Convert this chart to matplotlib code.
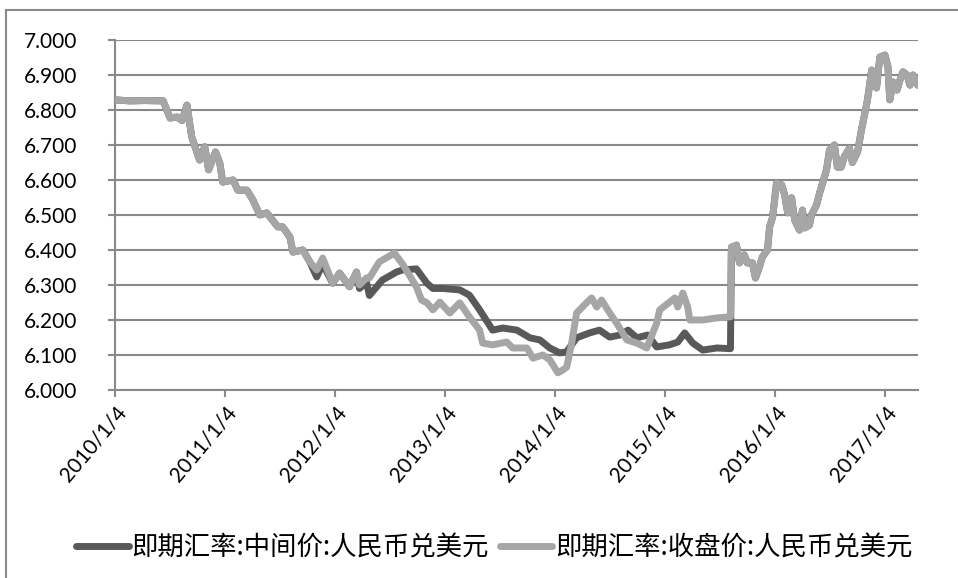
import matplotlib
matplotlib.use("Agg")
import matplotlib.pyplot as plt
from matplotlib.lines import Line2D
import numpy as np
import pandas as pd

# values (CNY per USD)
early_dates = ["2010-01-04", "2010-02-22", "2010-04-13", "2010-06-13", "2010-07-06",
               "2010-07-29", "2010-08-15", "2010-08-31", "2010-09-16", "2010-10-12",
               "2010-10-29", "2010-11-11", "2010-12-04", "2010-12-18", "2010-12-28",
               "2011-01-31", "2011-02-16", "2011-03-18", "2011-04-07", "2011-04-30",
               "2011-05-23", "2011-06-29", "2011-07-15", "2011-08-08", "2011-08-18",
               "2011-09-20", "2011-10-13"]
early_vals = [6.829, 6.826, 6.827, 6.826, 6.777,
              6.780, 6.770, 6.814, 6.723, 6.657,
              6.695, 6.629, 6.680, 6.649, 6.594,
              6.600, 6.571, 6.571, 6.543, 6.500,
              6.506, 6.466, 6.466, 6.437, 6.394,
              6.400, 6.366]

mid_dates_dark = ["2011-11-05", "2011-11-25", "2011-12-28", "2012-01-20", "2012-02-22",
                  "2012-03-16", "2012-03-26", "2012-04-18", "2012-04-28", "2012-06-10",
                  "2012-07-27", "2012-08-16", "2012-10-01", "2012-11-05", "2012-11-25",
                  "2012-12-28", "2013-02-22", "2013-03-26", "2013-04-29", "2013-06-11",
                  "2013-07-15", "2013-08-31", "2013-10-13", "2013-11-15", "2013-12-18",
                  "2014-01-20", "2014-02-12", "2014-03-17", "2014-04-29", "2014-06-01",
                  "2014-07-05", "2014-08-08", "2014-09-04", "2014-10-03", "2014-11-08",
                  "2014-12-08", "2015-01-20", "2015-02-16", "2015-03-11", "2015-04-07",
                  "2015-05-10", "2015-06-26", "2015-08-10", "2015-08-11", "2015-08-13"]
mid_vals_dark = [6.323, 6.360, 6.305, 6.334, 6.295,
                 6.337, 6.290, 6.309, 6.270, 6.314,
                 6.337, 6.343, 6.346, 6.305, 6.290,
                 6.290, 6.286, 6.271, 6.229, 6.171,
                 6.177, 6.171, 6.149, 6.143, 6.120,
                 6.106, 6.109, 6.149, 6.163, 6.171,
                 6.151, 6.157, 6.171, 6.149, 6.157,
                 6.123, 6.129, 6.137, 6.163, 6.134,
                 6.114, 6.120, 6.118, 6.206, 6.400]

mid_dates_light = ["2011-11-05", "2011-11-25", "2011-12-28", "2012-01-20", "2012-02-22",
                   "2012-03-16", "2012-03-26", "2012-04-18", "2012-04-28", "2012-05-31",
                   "2012-07-20", "2012-08-16", "2012-10-01", "2012-10-18", "2012-11-05",
                   "2012-11-25", "2012-12-18", "2013-01-20", "2013-02-22", "2013-03-26",
                   "2013-04-29", "2013-05-09", "2013-06-11", "2013-07-28", "2013-08-17",
                   "2013-10-03", "2013-10-23", "2013-11-25", "2013-12-18", "2014-01-14",
                   "2014-01-30", "2014-02-12", "2014-02-28", "2014-03-17", "2014-04-19",
                   "2014-05-06", "2014-05-23", "2014-06-08", "2014-07-05", "2014-07-28",
                   "2014-08-31", "2014-10-03", "2014-11-05", "2014-12-08", "2014-12-18",
                   "2015-01-20", "2015-02-06", "2015-02-16", "2015-03-05", "2015-03-21",
                   "2015-03-28", "2015-05-10", "2015-06-26", "2015-08-10", "2015-08-13"]
mid_vals_light = [6.343, 6.377, 6.305, 6.334, 6.295,
                  6.337, 6.300, 6.320, 6.320, 6.366,
                  6.391, 6.360, 6.295, 6.257, 6.249,
                  6.229, 6.251, 6.220, 6.249, 6.209,
                  6.171, 6.134, 6.129, 6.137, 6.120,
                  6.120, 6.091, 6.100, 6.086, 6.049,
                  6.057, 6.065, 6.130, 6.220, 6.249,
                  6.263, 6.237, 6.257, 6.220, 6.191,
                  6.143, 6.134, 6.120, 6.191, 6.229,
                  6.251, 6.263, 6.237, 6.277, 6.237,
                  6.200, 6.200, 6.206, 6.209, 6.409]

late_dates = ["2015-08-30", "2015-09-09", "2015-09-25", "2015-10-05", "2015-10-22",
              "2015-11-01", "2015-11-14", "2015-11-24", "2015-12-11", "2015-12-18",
              "2015-12-28", "2016-01-10", "2016-01-27", "2016-02-06", "2016-02-16",
              "2016-02-29", "2016-03-10", "2016-03-26", "2016-04-05", "2016-04-12",
              "2016-04-28", "2016-05-05", "2016-05-22", "2016-06-01", "2016-06-11",
              "2016-06-24", "2016-07-04", "2016-07-20", "2016-07-30", "2016-08-12",
              "2016-08-22", "2016-09-08", "2016-09-18", "2016-10-05", "2016-10-18",
              "2016-10-28", "2016-11-07", "2016-11-21", "2016-12-01", "2016-12-07",
              "2016-12-18", "2017-01-04", "2017-01-14", "2017-01-20", "2017-01-31",
              "2017-02-13", "2017-02-23", "2017-03-05", "2017-03-18", "2017-03-28",
              "2017-04-07", "2017-04-23"]
late_vals = [6.414, 6.363, 6.386, 6.363, 6.363,
             6.320, 6.351, 6.380, 6.400, 6.466,
             6.494, 6.591, 6.586, 6.557, 6.506,
             6.549, 6.486, 6.457, 6.514, 6.463,
             6.471, 6.500, 6.529, 6.563, 6.591,
             6.629, 6.686, 6.700, 6.637, 6.637,
             6.666, 6.691, 6.650, 6.680, 6.743,
             6.786, 6.829, 6.914, 6.906, 6.863,
             6.951, 6.957, 6.923, 6.829, 6.880,
             6.857, 6.886, 6.909, 6.900, 6.871,
             6.900, 6.871]

series_names = ["即期汇率:中间价:人民币兑美元", "即期汇率:收盘价:人民币兑美元"]
year_ticks = ["2010-01-04", "2011-01-04", "2012-01-04", "2013-01-04",
              "2014-01-04", "2015-01-04", "2016-01-04", "2017-01-04"]

dark_x = pd.to_datetime(early_dates + mid_dates_dark + late_dates)
dark_y = early_vals + mid_vals_dark + late_vals
light_x = pd.to_datetime(early_dates + mid_dates_light + late_dates)
light_y = early_vals + mid_vals_light + late_vals

fig = plt.figure(figsize=(9.58, 5.78), dpi=100)
ax = fig.add_axes([0.12, 0.3253, 0.838, 0.6055])

ax.plot(dark_x, dark_y, color="#595959", lw=5, solid_joinstyle="round",
        solid_capstyle="round", label=series_names[0], zorder=3)
ax.plot(light_x, light_y, color="#a6a6a6", lw=5, solid_joinstyle="round",
        solid_capstyle="round", label=series_names[1], zorder=4)

ax.set_ylim(6.0, 7.0)
ax.set_yticks(np.arange(6.0, 7.01, 0.1))
ax.yaxis.set_major_formatter(plt.FuncFormatter(lambda v, p: f"{v:.3f}"))
ax.set_xlim(pd.Timestamp("2010-01-04"), pd.Timestamp("2017-04-23"))
ticks = pd.to_datetime(year_ticks)
ax.set_xticks(ticks)
ax.set_xticklabels([f"{t.year}/{t.month}/{t.day}" for t in ticks])

ax.grid(axis="y", color="#898989", lw=1.5)
ax.set_axisbelow(True)
for s in ["top", "right"]:
    ax.spines[s].set_visible(False)
for s in ["left", "bottom"]:
    ax.spines[s].set_color("#898989")
    ax.spines[s].set_linewidth(1.5)

ax.tick_params(axis="y", length=5, width=1.5, color="#898989", labelsize=15, pad=22)
ax.tick_params(axis="x", length=5, width=1.5, color="#898989", labelsize=15, pad=4)
for lab in ax.get_yticklabels() + ax.get_xticklabels():
    lab.set_family("Lato")
for lab in ax.get_xticklabels():
    lab.set_rotation(50)
    lab.set_ha("right")
    lab.set_rotation_mode("anchor")

fig.legend(loc="center", bbox_to_anchor=(0.516, 0.052), ncol=2, frameon=False,
           prop={"family": ["Noto Sans CJK SC", "DejaVu Sans"], "size": 19},
           handlelength=2.0, handletextpad=0.1, columnspacing=0.4)

# chart outer border (top and left edges)
fig.add_artist(Line2D([0.006, 1.0], [0.983, 0.983], color="#898989", lw=1.5))
fig.add_artist(Line2D([0.006, 0.006], [0.0, 0.983], color="#898989", lw=1.5))

fig.savefig("out.png", dpi=100)
